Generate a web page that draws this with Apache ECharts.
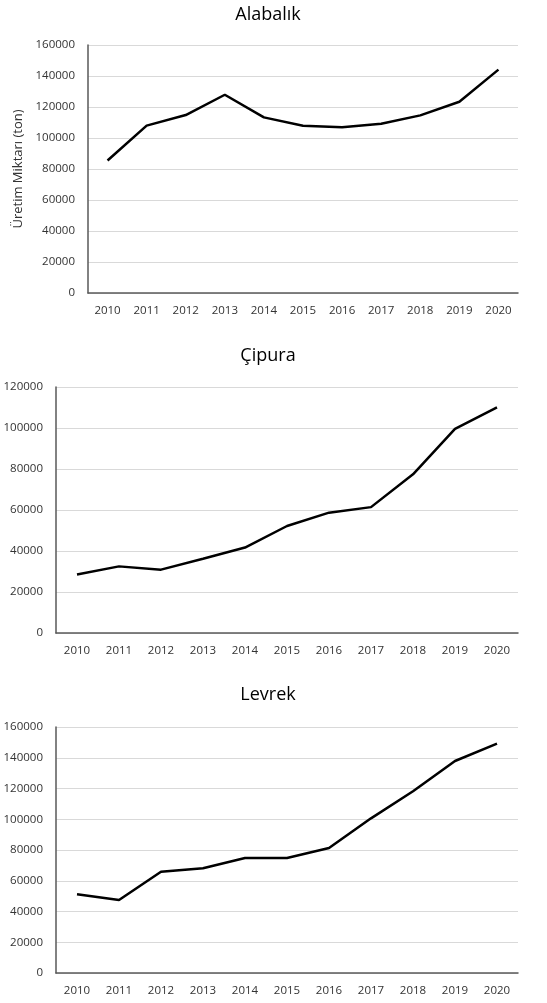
<!DOCTYPE html>
<html lang="tr">
<head>
    <meta charset="UTF-8">
    <title>Üretim Miktarı</title>
    <script src="https://cdn.jsdelivr.net/npm/echarts@6/dist/echarts.min.js"></script>
    <style>
        html, body { margin: 0; padding: 0; background: #ffffff; }
        #chart { width: 547px; height: 1003px; }
    </style>
</head>
<body>
    <div id="chart"></div>
    <script>
        // yıllar ve üretim miktarları (ton)
        const years = ['2010', '2011', '2012', '2013', '2014', '2015', '2016', '2017', '2018', '2019', '2020'];
        const titles = ['Alabalık', 'Çipura', 'Levrek'];
        const alabalik = [85500, 108000, 114800, 127900, 113300, 107900, 107000, 109200, 114600, 123400, 144100];
        const cipura = [28500, 32500, 30900, 36200, 41700, 52200, 58700, 61400, 77400, 99600, 110100];
        const levrek = [51200, 47500, 65900, 68100, 74800, 74800, 81300, 100600, 118200, 137900, 149200];
        const yMax = [160000, 120000, 160000];
        const yStep = 20000;

        const font = 'Open Sans, Liberation Sans, sans-serif';
        const labelColor = '#333333';

        const grids = [
            { left: 88, top: 45, right: 29, height: 248 },
            { left: 56, top: 387, right: 29, height: 246 },
            { left: 56, top: 727, right: 29, height: 246 }
        ];
        const titleTops = [1, 342, 681];
        const seriesData = [alabalik, cipura, levrek];

        let option = {
            backgroundColor: '#ffffff',
            animation: false,
            title: titles.map((t, i) => ({
                text: t,
                left: 263,
                textAlign: 'center',
                top: titleTops[i],
                textStyle: { fontFamily: font, fontSize: 18, fontWeight: 'normal', color: '#000000' }
            })),
            grid: grids,
            xAxis: grids.map((g, i) => ({
                type: 'category',
                gridIndex: i,
                data: years,
                boundaryGap: true,
                axisLine: { lineStyle: { color: '#595959', width: 1.5 } },
                axisTick: { show: false },
                axisLabel: { fontFamily: font, fontSize: 11.5, color: labelColor, margin: 12, interval: 0 }
            })),
            yAxis: grids.map((g, i) => ({
                type: 'value',
                gridIndex: i,
                min: 0,
                max: yMax[i],
                interval: yStep,
                name: i === 0 ? 'Üretim Miktarı (ton)' : '',
                nameLocation: 'middle',
                nameGap: 59,
                nameTextStyle: { fontFamily: font, fontSize: 13, color: labelColor },
                axisLine: { show: true, lineStyle: { color: '#595959', width: 1.5 } },
                axisTick: { show: false },
                splitLine: { lineStyle: { color: '#d9d9d9', width: 1 } },
                axisLabel: {
                    fontFamily: font, fontSize: 11.5, color: labelColor, margin: 13,
                    formatter: v => String(v)
                }
            })),
            series: seriesData.map((d, i) => ({
                type: 'line',
                xAxisIndex: i,
                yAxisIndex: i,
                data: d,
                symbol: 'none',
                lineStyle: { color: '#000000', width: 2.5 }
            }))
        };

        let chart = echarts.init(document.getElementById('chart'));
        chart.setOption(option);
    </script>
</body>
</html>
